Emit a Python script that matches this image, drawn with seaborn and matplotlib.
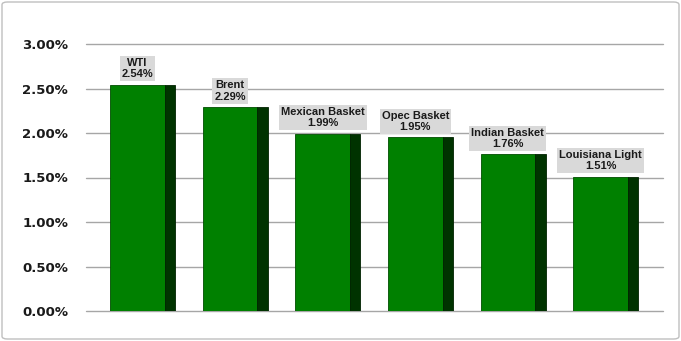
import matplotlib
matplotlib.use("Agg")
import matplotlib.pyplot as plt
import seaborn as sns
import numpy as np
import pandas as pd
from matplotlib.patches import FancyBboxPatch

categories = ["WTI", "Brent", "Mexican Basket", "Opec Basket", "Indian Basket", "Louisiana Light"]
values = [2.54, 2.29, 1.99, 1.95, 1.76, 1.51]
yticks = [0.0, 0.5, 1.0, 1.5, 2.0, 2.5, 3.0]

df = pd.DataFrame({"crude": categories, "pct": values})

sns.set_theme(style="white")
plt.rcParams['font.family'] = ['DejaVu Sans']

fig = plt.figure(figsize=(6.81, 3.41), dpi=100)
ax = fig.add_axes([86/681, 1-311/341, (663-86)/681, (311-44)/341])

front_w = 0.59
side_w = 0.113
sns.barplot(data=df, x="crude", y="pct", color="#008000", width=front_w,
            saturation=1, ax=ax, edgecolor="#004d00", linewidth=0.6, zorder=3)
x = np.arange(len(categories))
ax.bar(x + front_w/2, values, width=side_w, align="edge", color="#003300",
       edgecolor="#002200", linewidth=0.6, zorder=3)

ax.set_xlim(-0.555, 5.675)
ax.set_ylim(0, 3.0)
ax.set_yticks(yticks)
ax.set_yticklabels([f"{v:.2f}%" for v in yticks], fontsize=9.5, fontweight="bold", color="#1a1a1a")
ax.tick_params(axis="y", length=0, pad=13)
ax.set_xticks([])
ax.set_xlabel("")
ax.set_ylabel("")
for s in ax.spines.values():
    s.set_visible(False)
ax.grid(axis="y", color="#a6a6a6", linewidth=1.0, zorder=0)
for gl in ax.get_ygridlines():
    gl.set_clip_on(False)
ax.set_axisbelow(True)

for xi, v, name in zip(x, values, categories):
    ax.annotate(f"{name}\n{v:.2f}%", xy=(xi, v), xytext=(0, 4), textcoords="offset points",
                ha="center", va="bottom", fontsize=8, fontweight="bold",
                family=["Liberation Sans", "DejaVu Sans"], color="#1a1a1a",
                linespacing=1.15,
                bbox=dict(boxstyle="square,pad=0.18", fc="#d9d9d9", ec="none"),
                annotation_clip=False, zorder=5)

border = FancyBboxPatch((2/681, 2/341), 677/681, 337/341, boxstyle="round,pad=0,rounding_size=0.008",
                        transform=fig.transFigure, fill=False, ec="#bfbfbf", lw=1.0)
fig.patches.append(border)

fig.savefig("out.png", dpi=100)
